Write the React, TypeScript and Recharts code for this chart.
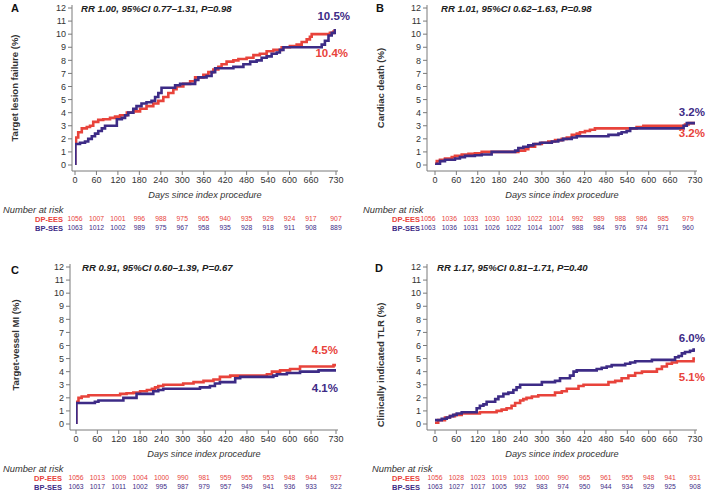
import React from 'react';
import { LineChart, Line, XAxis, YAxis, LabelList } from 'recharts';

const FONT = '"Liberation Sans", Arial, Helvetica, sans-serif';
const RED = '#e8433b';
const PURPLE = '#3d2b86';
const AXIS = '#7a7a7a';
const TEXT = '#333333';

const DAY_TICKS = [0, 60, 120, 180, 240, 300, 360, 420, 480, 540, 600, 660, 730];
const PCT_TICKS = [0, 1, 2, 3, 4, 5, 6, 7, 8, 9, 10, 11, 12];

// ---- Panel A: Target lesion failure ----
const tlfDp: [number, number][] = [
  [0, 0], [0.5, 1.65], [3, 2.1], [9, 2.5], [19, 2.8], [33, 2.9], [42, 3.0], [51, 3.3], [65, 3.45],
  [79, 3.5], [98, 3.6], [112, 3.7], [126, 3.8], [145, 4.0], [163, 4.1], [182, 4.3], [200, 4.5],
  [219, 4.7], [233, 4.9], [247, 5.2], [261, 5.5], [275, 5.8], [284, 6.0], [303, 6.2], [322, 6.4],
  [336, 6.7], [359, 6.9], [373, 7.1], [387, 7.3], [401, 7.5], [410, 7.7], [424, 7.9], [443, 8.0],
  [457, 8.1], [480, 8.2], [499, 8.4], [517, 8.5], [536, 8.7], [555, 8.8], [578, 9.0], [601, 9.1],
  [620, 9.2], [634, 9.4], [648, 9.6], [657, 9.8], [662, 10.0], [713, 10.1], [723, 10.2], [727, 10.3],
  [730, 10.4],
];
const tlfBp: [number, number][] = [
  [0, 0], [1, 1.6], [14, 1.7], [28, 1.8], [37, 2.0], [47, 2.2], [56, 2.4], [65, 2.6], [75, 2.8],
  [84, 3.0], [117, 3.5], [131, 3.6], [140, 3.8], [149, 4.0], [163, 4.3], [172, 4.5], [186, 4.7],
  [200, 4.8], [214, 4.9], [224, 5.2], [233, 5.5], [242, 5.9], [280, 6.1], [294, 6.2], [336, 6.5],
  [345, 6.7], [368, 6.8], [382, 7.1], [392, 7.4], [443, 7.5], [471, 7.7], [490, 7.9], [508, 8.0],
  [522, 8.2], [536, 8.3], [550, 8.5], [564, 8.6], [573, 8.8], [583, 9.0], [690, 9.2], [699, 9.5],
  [709, 9.9], [718, 10.1], [727, 10.3], [730, 10.4],
];
const riskTlfDp = [1056, 1007, 1001, 996, 988, 975, 965, 940, 935, 929, 924, 917, 907];
const riskTlfBp = [1063, 1012, 1002, 989, 975, 967, 958, 935, 928, 918, 911, 908, 889];

// ---- Panel B: Cardiac death ----
const cdDp: [number, number][] = [
  [0, 0.1], [5, 0.3], [14, 0.4], [28, 0.5], [47, 0.6], [56, 0.7], [75, 0.8], [94, 0.85], [112, 0.9],
  [131, 1.0], [234, 1.1], [253, 1.2], [262, 1.4], [281, 1.6], [300, 1.7], [318, 1.8], [337, 1.9],
  [356, 2.0], [370, 2.1], [384, 2.3], [398, 2.4], [407, 2.5], [421, 2.6], [435, 2.7], [449, 2.8],
  [566, 2.9], [585, 3.0], [702, 3.1], [712, 3.2], [730, 3.2],
];
const cdBp: [number, number][] = [
  [0, 0.0], [5, 0.1], [14, 0.3], [28, 0.4], [56, 0.5], [70, 0.6], [84, 0.7], [112, 0.75], [131, 0.8],
  [159, 1.0], [225, 1.1], [234, 1.3], [248, 1.4], [262, 1.5], [276, 1.6], [295, 1.7], [328, 1.8],
  [346, 1.9], [360, 2.0], [384, 2.1], [398, 2.2], [487, 2.3], [515, 2.4], [524, 2.5], [538, 2.6],
  [548, 2.8], [698, 3.0], [707, 3.2], [730, 3.2],
];
const riskCdDp = [1056, 1036, 1033, 1030, 1030, 1022, 1014, 992, 989, 988, 986, 985, 979];
const riskCdBp = [1063, 1036, 1031, 1026, 1022, 1014, 1007, 988, 984, 976, 974, 971, 960];

// ---- Panel C: Target-vessel MI ----
const miDp: [number, number][] = [
  [0, 0], [0.5, 1.7], [7, 2.0], [16, 2.1], [35, 2.2], [124, 2.3], [142, 2.35], [161, 2.4], [180, 2.5],
  [199, 2.6], [213, 2.7], [222, 2.8], [231, 2.9], [245, 3.0], [301, 3.1], [330, 3.2], [358, 3.3],
  [386, 3.4], [404, 3.6], [433, 3.7], [536, 3.8], [550, 4.0], [573, 4.1], [601, 4.2], [629, 4.4],
  [723, 4.5], [730, 4.5],
];
const miBp: [number, number][] = [
  [0, 0], [1, 1.6], [53, 1.7], [63, 1.8], [133, 2.0], [170, 2.3], [217, 2.5], [231, 2.6], [245, 2.7],
  [348, 2.8], [376, 2.9], [390, 3.1], [404, 3.2], [447, 3.5], [461, 3.6], [554, 3.7], [564, 3.8],
  [592, 3.9], [629, 4.0], [681, 4.1], [730, 4.1],
];
const riskMiDp = [1056, 1013, 1009, 1004, 1000, 990, 981, 959, 955, 953, 948, 944, 937];
const riskMiBp = [1063, 1017, 1011, 1002, 995, 987, 979, 957, 949, 941, 936, 933, 922];

// ---- Panel D: Clinically indicated TLR ----
const tlrDp: [number, number][] = [
  [0, 0.1], [9, 0.3], [28, 0.5], [42, 0.6], [56, 0.7], [75, 0.8], [126, 0.9], [173, 1.0], [187, 1.1],
  [201, 1.2], [215, 1.4], [225, 1.6], [239, 1.8], [248, 1.9], [257, 2.0], [272, 2.1], [290, 2.2],
  [337, 2.4], [356, 2.5], [370, 2.7], [403, 2.9], [417, 3.0], [487, 3.2], [506, 3.3], [524, 3.5],
  [543, 3.7], [562, 3.9], [581, 4.0], [623, 4.2], [637, 4.4], [651, 4.6], [665, 4.7], [679, 4.8],
  [726, 5.0], [730, 5.0],
];
const tlrBp: [number, number][] = [
  [0, 0.3], [19, 0.4], [33, 0.5], [42, 0.6], [51, 0.7], [61, 0.8], [75, 0.9], [117, 1.2], [126, 1.4],
  [136, 1.5], [145, 1.7], [169, 1.9], [178, 2.1], [192, 2.3], [206, 2.4], [220, 2.6], [229, 2.8],
  [239, 3.0], [300, 3.2], [337, 3.3], [351, 3.5], [379, 3.7], [389, 4.0], [398, 4.1], [454, 4.2],
  [468, 4.3], [482, 4.4], [496, 4.5], [534, 4.6], [548, 4.7], [562, 4.8], [609, 4.9], [674, 5.1],
  [684, 5.2], [693, 5.4], [702, 5.5], [716, 5.6], [726, 5.7], [730, 5.7],
];
const riskTlrDp = [1056, 1028, 1023, 1019, 1013, 1000, 990, 965, 961, 955, 948, 941, 931];
const riskTlrBp = [1063, 1027, 1017, 1005, 992, 983, 974, 950, 944, 934, 929, 925, 908];

type Pt = { day: number; v: number; lbl?: string };

function toPoints(src: [number, number][], endLabel: string): Pt[] {
  return src.map(([day, v], i) => (i === src.length - 1 ? { day, v, lbl: endLabel } : { day, v }));
}

function riskPoints(values: number[]) {
  return DAY_TICKS.map((day, i) => ({ day, v: 0, n: values[i] }));
}

type PanelProps = {
  left: number;
  top: number;
  letter: string;
  letterX: number;
  letterY: number;
  title: string;
  titleX: number;
  yLabel: string;
  yLabelX: number;
  yLabelDy: number;
  yAxisWidth: number;
  padLeft: number;
  marginRight: number;
  dp: [number, number][];
  bp: [number, number][];
  dpEnd: string;
  bpEnd: string;
  dpOff: [number, number];
  bpOff: [number, number];
  riskDp: number[];
  riskBp: number[];
  riskDx: number;
  nrX: number;
  rowLabelRight: number;
};

function endLabel(color: string, off: [number, number]) {
  return (props: any) => {
    const value = props.value;
    if (value === undefined || value === null || value === '') return null;
    const x = props.x ?? props.viewBox?.x;
    const y = props.y ?? props.viewBox?.y;
    if (x === undefined || y === undefined) return null;
    return (
      <text x={x + off[0]} y={y + off[1]} textAnchor="end" fill={color} fontFamily={FONT} fontWeight="bold" fontSize={11.5}>
        {value}
      </text>
    );
  };
}

function Panel(p: PanelProps) {
  const dpData = toPoints(p.dp, p.dpEnd);
  const bpData = toPoints(p.bp, p.bpEnd);
  const r1Data = riskPoints(p.riskDp);
  const r2Data = riskPoints(p.riskBp);
  const xCommon = {
    type: 'number' as const,
    dataKey: 'day',
    domain: [0, 730] as [number, number],
    ticks: DAY_TICKS,
    interval: 0 as const,
    allowDataOverflow: true,
    padding: { left: p.padLeft, right: 2 },
  };
  const riskFmt = (values: number[]) => (v: number) => {
    const idx = DAY_TICKS.indexOf(v);
    return idx >= 0 ? String(values[idx]) : '';
  };
  return (
    <div style={{ position: 'absolute', left: p.left, top: p.top, width: 355, height: 236 }}>
      <LineChart width={355} height={236} margin={{ top: 5, right: p.marginRight, bottom: 2, left: 0 }}>
        <XAxis
          {...xCommon}
          xAxisId="main"
          height={27}
          stroke={AXIS}
          tickSize={4}
          tickMargin={2}
          tick={{ fontSize: 9, fill: TEXT, fontFamily: FONT }}
          label={(lp: any) => {
            const vb = lp.viewBox || {};
            return (
              <text x={vb.x + vb.width / 2} y={vb.y + vb.height} textAnchor="middle" fill={TEXT} fontFamily={FONT} fontStyle="italic" fontSize={9.2}>
                Days since index procedure
              </text>
            );
          }}
        />
        <XAxis
          {...xCommon}
          xAxisId="nrt"
          height={18}
          axisLine={false}
          tickLine={false}
          tick={false}
          label={(lp: any) => {
            const vb = lp.viewBox || {};
            return (
              <text x={p.nrX} y={vb.y + 15} textAnchor="start" fill={TEXT} fontFamily={FONT} fontStyle="italic" fontSize={9.3}>
                Number at risk
              </text>
            );
          }}
        />
        <XAxis
          {...xCommon}
          xAxisId="r1"
          height={9}
          axisLine={false}
          tickLine={false}
          tickSize={0}
          tickMargin={0}
          tickFormatter={riskFmt(p.riskDp)}
          tick={{ fontSize: 6.8, fill: RED, fontFamily: FONT, dx: p.riskDx }}
          label={(lp: any) => {
            const vb = lp.viewBox || {};
            return (
              <text x={p.rowLabelRight} y={vb.y + 5.5} textAnchor="end" fill={RED} fontFamily={FONT} fontWeight="bold" fontSize={7.5}>
                DP-EES
              </text>
            );
          }}
        />
        <XAxis
          {...xCommon}
          xAxisId="r2"
          height={9}
          axisLine={false}
          tickLine={false}
          tickSize={0}
          tickMargin={0}
          tickFormatter={riskFmt(p.riskBp)}
          tick={{ fontSize: 6.8, fill: PURPLE, fontFamily: FONT, dx: p.riskDx }}
          label={(lp: any) => {
            const vb = lp.viewBox || {};
            return (
              <text x={p.rowLabelRight} y={vb.y + 5.5} textAnchor="end" fill={PURPLE} fontFamily={FONT} fontWeight="bold" fontSize={7.5}>
                BP-SES
              </text>
            );
          }}
        />
        <YAxis
          type="number"
          domain={[0, 12]}
          ticks={PCT_TICKS}
          interval={0}
          allowDataOverflow
          width={p.yAxisWidth}
          padding={{ top: 3, bottom: 6 }}
          stroke={AXIS}
          tickSize={4}
          tickMargin={2}
          tick={{ fontSize: 9, fill: TEXT, fontFamily: FONT }}
          label={(lp: any) => {
            const vb = lp.viewBox || {};
            const cy = vb.y + vb.height / 2 + p.yLabelDy;
            return (
              <text
                x={p.yLabelX}
                y={cy}
                transform={`rotate(-90 ${p.yLabelX} ${cy})`}
                textAnchor="middle"
                fill={TEXT}
                fontFamily={FONT}
                fontWeight="bold"
                fontSize={9.5}
              >
                {p.yLabel}
              </text>
            );
          }}
        />
        <Line xAxisId="nrt" data={r1Data} dataKey="v" stroke="none" dot={false} activeDot={false} isAnimationActive={false} />
        <Line xAxisId="r1" data={r1Data} dataKey="v" stroke="none" dot={false} activeDot={false} isAnimationActive={false} />
        <Line xAxisId="r2" data={r2Data} dataKey="v" stroke="none" dot={false} activeDot={false} isAnimationActive={false} />
        <Line
          xAxisId="main"
          data={dpData}
          dataKey="v"
          type="stepAfter"
          stroke={RED}
          strokeWidth={2.6}
          dot={false}
          activeDot={false}
          isAnimationActive={false}
        >
          <LabelList dataKey="lbl" content={endLabel(RED, p.dpOff)} />
        </Line>
        <Line
          xAxisId="main"
          data={bpData}
          dataKey="v"
          type="stepAfter"
          stroke={PURPLE}
          strokeWidth={2.6}
          dot={false}
          activeDot={false}
          isAnimationActive={false}
        >
          <LabelList dataKey="lbl" content={endLabel(PURPLE, p.bpOff)} />
        </Line>
      </LineChart>
      <svg width={355} height={24} style={{ position: 'absolute', left: 0, top: 0, pointerEvents: 'none' }}>
        <text x={p.letterX} y={p.letterY + 4} textAnchor="middle" fill="#111" fontFamily={FONT} fontWeight="bold" fontSize={11}>
          {p.letter}
        </text>
        <text x={p.titleX} y={11.5} fill="#222" fontFamily={FONT} fontWeight="bold" fontStyle="italic" fontSize={9.6}>
          {p.title}
        </text>
      </svg>
    </div>
  );
}

export default function App() {
  return (
    <div style={{ position: 'absolute', left: 0, top: 0, width: 709, height: 490, overflow: 'hidden', background: '#fff' }}>
      <Panel
        left={0}
        top={0}
        letter="A"
        letterX={15}
        letterY={8}
        title="RR 1.00, 95%CI 0.77–1.31, P=0.98"
        titleX={81}
        yLabel="Target lesion failure (%)"
        yLabelX={17.5}
        yLabelDy={0}
        yAxisWidth={72}
        padLeft={3}
        marginRight={17}
        dp={tlfDp}
        bp={tlfBp}
        dpEnd="10.4%"
        bpEnd="10.5%"
        dpOff={[12, 28]}
        bpOff={[14, -9]}
        riskDp={riskTlfDp}
        riskBp={riskTlfBp}
        riskDx={0}
        nrX={3}
        rowLabelRight={63}
      />
      <Panel
        left={355}
        top={0}
        letter="B"
        letterX={25}
        letterY={8}
        title="RR 1.01, 95%CI 0.62–1.63, P=0.98"
        titleX={86}
        yLabel="Cardiac death (%)"
        yLabelX={28.5}
        yLabelDy={0}
        yAxisWidth={72}
        padLeft={8}
        marginRight={13}
        dp={cdDp}
        bp={cdBp}
        dpEnd="3.2%"
        bpEnd="3.2%"
        dpOff={[10, 14]}
        bpOff={[10, -7]}
        riskDp={riskCdDp}
        riskBp={riskCdBp}
        riskDx={-7}
        nrX={8}
        rowLabelRight={65}
      />
      <Panel
        left={0}
        top={259}
        letter="C"
        letterX={15}
        letterY={11}
        title="RR 0.91, 95%CI 0.60–1.39, P=0.67"
        titleX={82}
        yLabel="Target-vessel MI (%)"
        yLabelX={18.5}
        yLabelDy={-2}
        yAxisWidth={70}
        padLeft={6}
        marginRight={17}
        dp={miDp}
        bp={miBp}
        dpEnd="4.5%"
        bpEnd="4.1%"
        dpOff={[2, -11]}
        bpOff={[2, 22]}
        riskDp={riskMiDp}
        riskBp={riskMiBp}
        riskDx={0}
        nrX={3}
        rowLabelRight={62}
      />
      <Panel
        left={355}
        top={259}
        letter="D"
        letterX={24}
        letterY={9}
        title="RR 1.17, 95%CI 0.81–1.71, P=0.40"
        titleX={82}
        yLabel="Clinically indicated TLR (%)"
        yLabelX={29}
        yLabelDy={18}
        yAxisWidth={72}
        padLeft={8}
        marginRight={13}
        dp={tlrDp}
        bp={tlrBp}
        dpEnd="5.1%"
        bpEnd="6.0%"
        dpOff={[10, 22]}
        bpOff={[10, -7]}
        riskDp={riskTlrDp}
        riskBp={riskTlrBp}
        riskDx={0}
        nrX={17}
        rowLabelRight={65}
      />
    </div>
  );
}
